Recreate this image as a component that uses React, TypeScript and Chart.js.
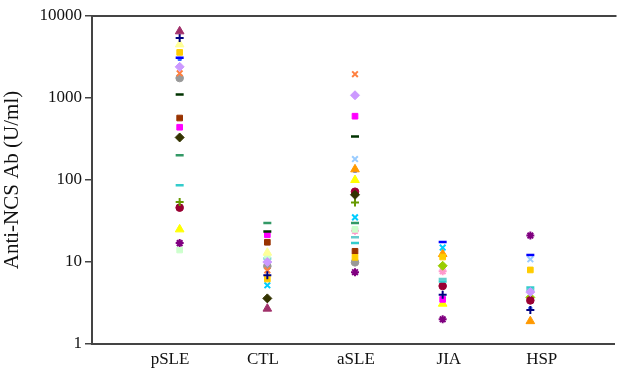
import React, { useEffect, useRef } from "react";
import { Chart, registerables } from "chart.js";

Chart.register(...registerables);

// Categories (groups) and y-axis ticks
const groups = ["pSLE", "CTL", "aSLE", "JIA", "HSP"];
const yTicks = [1, 10, 100, 1000, 10000];

// Values per series across groups [pSLE, CTL, aSLE, JIA, HSP]
const s01 = [6500, 2.7, null, null, null];
const s02 = [5400, 6.9, null, 4.0, 2.6];
const s03 = [4500, 13, null, null, null];
const s04 = [3600, 6.2, 11.4, 11.5, 8.0];
const s05 = [3100, null, null, 17.5, 12.2];
const s06 = [2400, 10, 1080, null, 4.3];
const s07 = [2000, 7.9, 1950, null, null];
const s08 = [1750, 8.9, 9.9, null, null];
const s09 = [1100, 23.5, 340, null, null];
const s10 = [570, 17.4, 13.5, null, null];
const s11 = [440, 21.5, 600, 3.5, null];
const s12 = [330, 3.6, 66, null, null];
const s13 = [200, 30, 30, null, null];
const s14 = [86, null, 17, 5.8, 4.9];
const s15 = [54, null, 53, null, null];
const s16 = [46, null, 72, 5.1, 3.4];
const s17 = [25, null, 100, 3.1, null];
const s18 = [17, null, 7.5, 2.0, 21];
const s19 = [14, 12, 25, null, null];
const s20 = [null, 5.2, 35, 15, null];
const s21 = [null, null, 180, null, 10.8];
const s22 = [null, null, 135, 12.5, 1.9];
const s23 = [null, null, null, 9.0, 3.7];
const s24 = [null, null, 24, 7.7, null];
const s25 = [3000, 17, 130, null, 2.7];
const s26 = [null, 11, 20, 6.2, 4.6];

const seriesValues = [s01, s02, s03, s04, s05, s06, s07, s08, s09, s10, s11, s12, s13,
  s14, s15, s16, s17, s18, s19, s20, s21, s22, s23, s24, s25, s26];

// Marker styles per series
const seriesColors = ["#a0306a", "#000080", "#ffff99", "#ffcc00", "#0000ff", "#cc99ff", "#ff8040",
  "#999999", "#003300", "#993300", "#ff00ff", "#333300", "#339966", "#33cccc", "#669900",
  "#990033", "#ffff00", "#800080", "#ccffcc", "#00ccff", "#99ccff", "#ff9900", "#99cc00",
  "#ff99cc", "#3366ff", "#66cccc"];
const seriesShapes = ["triangle", "cross", "triangle", "rect", "line", "rectRot", "crossRot",
  "circle", "line", "rect", "rect", "rectRot", "line", "line", "cross", "circle", "triangle",
  "star", "rect", "crossRot", "crossRot", "triangle", "rectRot", "star", "rect", "line"];

export default function App() {
  const ref = useRef<HTMLCanvasElement | null>(null);

  useEffect(() => {
    if (!ref.current) return;
    const datasets = seriesValues.map((vals, si) => {
      const shape = seriesShapes[si];
      const isLine = shape === "line" || shape === "cross" || shape === "crossRot" || shape === "star";
      const small = si === 24;
      let r = 4;
      if (small) r = 2.2;
      else if (shape === "triangle") r = 5;
      else if (shape === "rectRot") r = 4.5;
      else if (shape === "circle") r = 3.8;
      return {
        label: "S" + (si + 1),
        data: vals
          .map((v, gi) => (v == null ? null : { x: gi + 1, y: v }))
          .filter((p) => p !== null) as { x: number; y: number }[],
        showLine: false,
        pointStyle: shape as any,
        pointRadius: r,
        backgroundColor: seriesColors[si],
        borderColor: seriesColors[si],
        pointBorderWidth: isLine ? (shape === "line" ? 2.5 : 2) : 1,
      };
    });

    const topBorder = {
      id: "topBorder",
      afterDraw(chart: any) {
        const { ctx, chartArea } = chart;
        ctx.save();
        ctx.strokeStyle = "#444";
        ctx.lineWidth = 2;
        ctx.beginPath();
        ctx.moveTo(chartArea.left - 1, chartArea.top);
        ctx.lineTo(chartArea.right + 2, chartArea.top);
        ctx.stroke();
        ctx.restore();
      },
    };

    const chart = new Chart(ref.current, {
      type: "scatter",
      data: { datasets: datasets as any },
      plugins: [topBorder],
      options: {
        responsive: false,
        animation: false,
        layout: { padding: { top: 16, right: 0, left: 0, bottom: 0 } },
        plugins: { legend: { display: false }, tooltip: { enabled: false } },
        scales: {
          x: {
            type: "linear",
            min: 0,
            max: 5.96,
            afterFit: (s: any) => {
              s.height = 28;
            },
            afterBuildTicks: (s: any) => {
              s.ticks = groups.map((_, i) => ({ value: 0.89 + 1.06 * i }));
            },
            grid: { display: false, drawTicks: false },
            border: { display: true, color: "#444", width: 2 },
            ticks: {
              autoSkip: false,
              maxRotation: 0,
              padding: 5,
              color: "#111",
              font: { family: "Liberation Serif", size: 17 },
              callback: (v: any) => {
                const i = Math.round((Number(v) - 0.89) / 1.06);
                return groups[i] ?? "";
              },
            },
          },
          y: {
            type: "logarithmic",
            min: 1,
            max: 10000,
            afterFit: (s: any) => {
              s.width = 92;
            },
            afterBuildTicks: (s: any) => {
              s.ticks = yTicks.map((v) => ({ value: v }));
            },
            grid: { display: true, drawOnChartArea: false, drawTicks: true, tickLength: 7, color: "#444", lineWidth: 1.5 },
            border: { display: true, color: "#444", width: 2 },
            ticks: {
              padding: 3,
              color: "#111",
              font: { family: "Liberation Serif", size: 17 },
              callback: (v: any) => String(v),
            },
            title: {
              display: true,
              text: "Anti-NCS Ab (U/ml)",
              color: "#111",
              font: { family: "Liberation Serif", size: 21 },
              padding: { top: 0, bottom: 2 },
            },
          },
        },
      },
    });
    return () => chart.destroy();
  }, []);

  return (
    <div style={{ position: "absolute", left: 0, top: 0, width: 621, height: 372, background: "#fff" }}>
      <canvas ref={ref} width={621} height={372} />
    </div>
  );
}
